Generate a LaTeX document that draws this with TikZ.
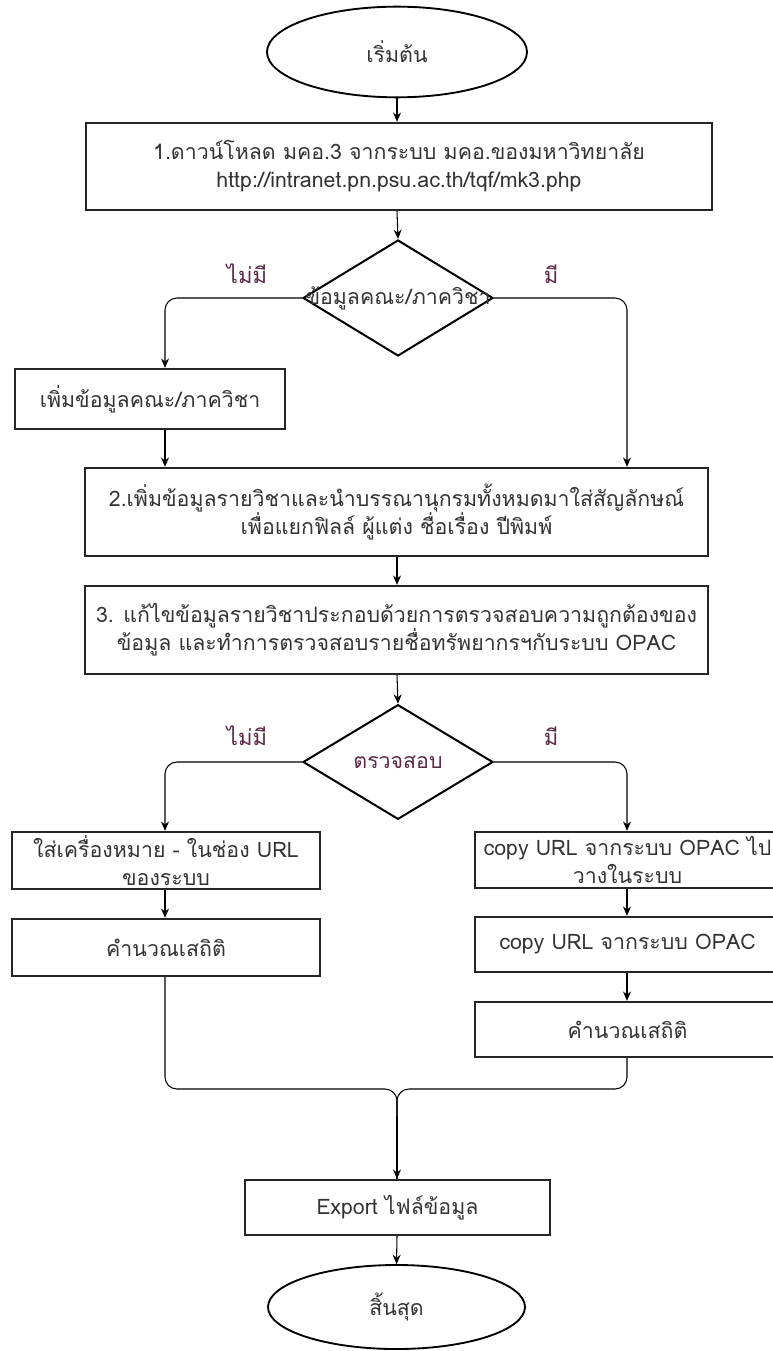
\documentclass[tikz,border=0pt]{standalone}
\usepackage{fontspec}
\setmainfont[Script=Thai]{Loma}
\usetikzlibrary{shapes.geometric,arrows.meta}
\definecolor{txt}{HTML}{333333}
\definecolor{lab}{HTML}{5A2A48}
\tikzset{
  base/.style={font=\fontsize{16pt}{21pt}\selectfont, text=txt, align=center, inner sep=0pt},
  stepbox/.style={base, draw=black!85, line width=1.8pt, rectangle},
  term/.style={base, draw=black, line width=1.4pt, ellipse},
  decide/.style={draw=black, line width=1.5pt, diamond, inner sep=0pt},
  arr/.style={-{Stealth[length=7pt,width=6pt]}, line width=0.8pt, black},
  ln/.style={line width=0.8pt, black},
  yn/.style={font=\fontsize{16.5pt}{18pt}\selectfont, text=lab, inner sep=0pt}
}
\begin{document}
\begin{tikzpicture}[x=0.75pt,y=-0.75pt]
\useasboundingbox (0,0) rectangle (773,1351);
\coordinate (lx) at (165,0);
\coordinate (rx) at (627,0);
\coordinate (mx) at (397,0);

\node[term, minimum width=195pt, minimum height=68pt] (start) at (397,52) {เริ่มต้น};
\node[stepbox, minimum width=469.5pt, minimum height=65.25pt] (s1) at (399,166.5)
  {1.ดาวน์โหลด มคอ.3 จากระบบ มคอ.ของมหาวิทยาลัย\\http://intranet.pn.psu.ac.th/tqf/mk3.php};
\node[decide, minimum width=142.5pt, minimum height=87pt,
  label={[base]center:ข้อมูลคณะ/ภาควิชา}] (d1) at (398,298) {};
\node[yn] (d1no) at (247,274) {ไม่มี};
\node[yn] (d1yes) at (551,274) {มี};
\node[stepbox, minimum width=202.5pt, minimum height=45pt] (fac) at (150,399) {เพิ่มข้อมูลคณะ/ภาควิชา};
\node[stepbox, minimum width=467.25pt, minimum height=66pt] (s2) at (396.5,512)
  {2.เพิ่มข้อมูลรายวิชาและนำบรรณานุกรมทั้งหมดมาใส่สัญลักษณ์\\เพื่อแยกฟิลล์ ผู้แต่ง ชื่อเรื่อง ปีพิมพ์};
\node[stepbox, minimum width=467.25pt, minimum height=66pt] (s3) at (396.5,630)
  {3. แก้ไขข้อมูลรายวิชาประกอบด้วยการตรวจสอบความถูกต้องของ\\ข้อมูล และทำการตรวจสอบรายชื่อทรัพยากรฯกับระบบ OPAC};
\node[decide, minimum width=142.5pt, minimum height=86pt,
  label={[base,text=lab]center:ตรวจสอบ}] (d2) at (398,762) {};
\node[yn] (d2no) at (247,736) {ไม่มี};
\node[yn] (d2yes) at (551,736) {มี};
\node[stepbox, minimum width=231pt, minimum height=42.75pt] (la) at (166,860.5)
  {ใส่เครื่องหมาย - ในช่อง URL\\ของระบบ};
\node[stepbox, minimum width=231pt, minimum height=42.75pt] (lb) at (166,947.5) {คำนวณเสถิติ};
\node[stepbox, minimum width=228.75pt, minimum height=42pt] (ra) at (627.5,860)
  {copy URL จากระบบ OPAC ไป\\วางในระบบ};
\node[stepbox, minimum width=228.75pt, minimum height=41.25pt] (rb) at (627.5,944.5) {copy URL จากระบบ OPAC};
\node[stepbox, minimum width=228.75pt, minimum height=41.25pt] (rc) at (627.5,1029.5) {คำนวณเสถิติ};
\node[stepbox, minimum width=228.75pt, minimum height=41.25pt] (exp) at (397.5,1207.5) {Export ไฟล์ข้อมูล};
\node[term, minimum width=192.75pt, minimum height=63pt] (stop) at (396.5,1307) {สิ้นสุด};
\coordinate (merge) at (397,1089);

\draw[arr] (start.south -| mx) -- (s1.north -| mx);
\draw[arr] (s1.south -| mx) -- (d1.north);
\draw[arr, rounded corners=9pt] (d1.west) -| (fac.north -| lx);
\draw[arr, rounded corners=9pt] (d1.east) -| (s2.north -| rx);
\draw[arr] (fac.south -| lx) -- (s2.north -| lx);
\draw[arr] (s2.south -| mx) -- (s3.north -| mx);
\draw[arr] (s3.south -| mx) -- (d2.north);
\draw[arr, rounded corners=9pt] (d2.west) -| (la.north -| lx);
\draw[arr, rounded corners=9pt] (d2.east) -| (ra.north -| rx);
\draw[arr] (la.south -| lx) -- (lb.north -| lx);
\draw[arr] (ra.south -| rx) -- (rb.north -| rx);
\draw[arr] (rb.south -| rx) -- (rc.north -| rx);
\draw[ln, rounded corners=9pt] (lb.south -| lx) |- (merge) -- (exp.north -| mx);
\draw[ln, rounded corners=9pt] (rc.south -| rx) |- (merge) -- (exp.north -| mx);
\draw[arr] ([yshift=-20pt]merge) -- (exp.north -| mx);
\draw[arr] (exp.south -| mx) -- (stop.north);
\end{tikzpicture}
\end{document}
